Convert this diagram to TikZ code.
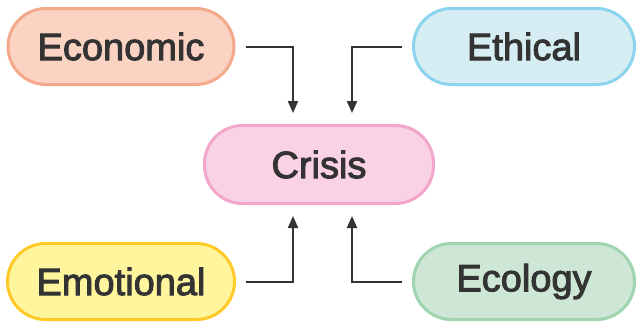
\documentclass[tikz,border=0pt]{standalone}
\usepackage{fontspec}
\newfontfamily\boxfont{Liberation Sans}[FakeBold=2.5]
\usetikzlibrary{arrows.meta}
\definecolor{txt}{HTML}{333333}
\definecolor{econfill}{HTML}{FBD3C3}
\definecolor{econline}{HTML}{F5A98B}
\definecolor{ethfill}{HTML}{D6EEF3}
\definecolor{ethline}{HTML}{8CD3F0}
\definecolor{crisfill}{HTML}{F9D2E5}
\definecolor{crisline}{HTML}{F3A6CB}
\definecolor{emofill}{HTML}{FFF59D}
\definecolor{emoline}{HTML}{FFCA28}
\definecolor{ecofill}{HTML}{CDE6D5}
\definecolor{ecoline}{HTML}{9FD4AE}

\begin{document}
\begin{tikzpicture}[x=1pt, y=1pt,
    pill/.style={draw=#1line, fill=#1fill, line width=3pt, rounded corners=38pt,
      minimum height=76pt, text=txt, font=\boxfont\fontsize{38}{40}\selectfont},
    link/.style={draw=txt, line width=2pt, -{Triangle[length=12pt, width=10pt]}}]
  \useasboundingbox (0, 0) rectangle (637, 325);
  \node[pill=econ, minimum width=226pt] (econ) at (121, 278.5) {Economic};
  \node[pill=eth, minimum width=221pt] (eth) at (524, 278.5) {Ethical};
  \node[pill=cris, minimum width=229pt, minimum height=78pt] (cris) at (319, 160.5) {Crisis};
  \node[pill=emo, minimum width=227pt] (emo) at (121, 43.5) {Emotional};
  \node[pill=eco, minimum width=221pt] (eco) at (524, 43.5) {Ecology};
  \draw[link] ([xshift=10pt]econ.east) -| ([xshift=-26pt, yshift=11pt]cris.north);
  \draw[link] ([xshift=-10pt]eth.west) -| ([xshift=33pt, yshift=11pt]cris.north);
  \draw[link] ([xshift=10pt]emo.east) -| ([xshift=-26pt, yshift=-11pt]cris.south);
  \draw[link] ([xshift=-10pt]eco.west) -| ([xshift=33pt, yshift=-11pt]cris.south);
\end{tikzpicture}
\end{document}
